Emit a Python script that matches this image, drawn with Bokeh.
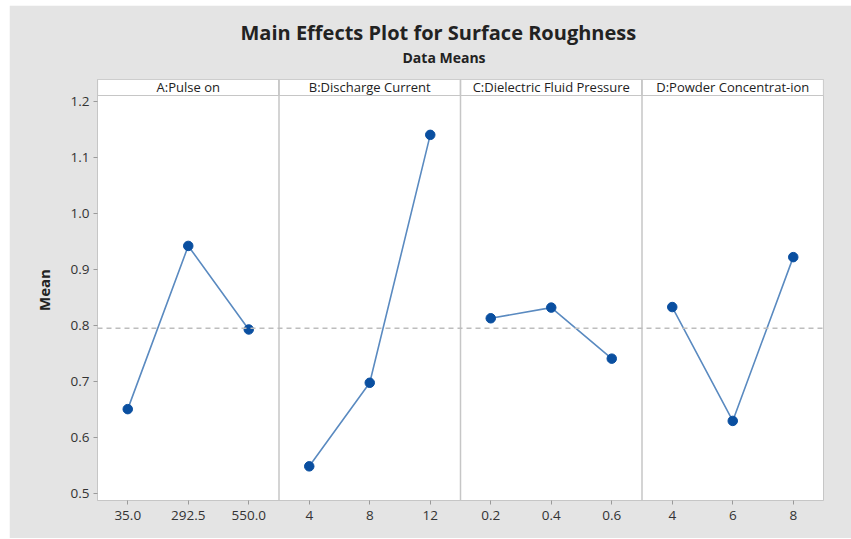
from bokeh.plotting import figure
from bokeh.models import Range1d, FixedTicker, Title, ColumnDataSource, Span
from bokeh.core.properties import value
from bokeh.embed import file_html
from bokeh.resources import INLINE

# ---- data ----
factors = ["A:Pulse on", "B:Discharge Current", "C:Dielectric Fluid Pressure", "D:Powder Concentrat-ion"]
levels_A = ["35.0", "292.5", "550.0"]
levels_B = ["4", "8", "12"]
levels_C = ["0.2", "0.4", "0.6"]
levels_D = ["4", "6", "8"]
means_A = [0.651, 0.942, 0.793]
means_B = [0.549, 0.698, 1.140]
means_C = [0.813, 0.832, 0.741]
means_D = [0.833, 0.630, 0.922]
grand_mean = 0.795
y_ticks = [0.5, 0.6, 0.7, 0.8, 0.9, 1.0, 1.1, 1.2]

all_levels = [levels_A, levels_B, levels_C, levels_D]
all_means = [means_A, means_B, means_C, means_D]

BG = "#e4e4e4"
FONT = "Open Sans"
LINE_C = "#5a8ac0"
MARK_C = "#0a4fa0"
FRAME_C = "#c6c6c6"

n_per = 3
y_top = 1.2387      # top of facet strip
strip_bottom = 1.2102

p = figure(frame_width=726, frame_height=421,
           x_range=Range1d(-0.5, len(factors) * n_per - 0.5),
           y_range=Range1d(0.4881, y_top),
           output_backend="svg", toolbar_location=None,
           min_border_left=88, min_border_right=28, min_border_top=74, min_border_bottom=38)
p.styles = {"margin-left": "9px", "margin-top": "5px"}
p.border_fill_color = BG
p.background_fill_color = "white"
p.outline_line_color = FRAME_C
p.grid.visible = False

# invisible spacer between frame and subtitle
p.add_layout(Title(text=".", text_font=FONT, text_font_size="4px", text_color=BG,
                   standoff=8), "above")
p.add_layout(Title(text="Data Means", text_font=FONT, text_font_size="14px",
                   text_font_style="bold", align="left", offset=305,
                   text_color="#222222", standoff=0), "above")
p.add_layout(Title(text="Main Effects Plot for Surface Roughness", text_font=FONT,
                   text_font_size="20px", text_font_style="bold", align="left",
                   offset=143, text_color="#222222", standoff=0), "above")

# facet strips
sx = [i * n_per + 1 for i in range(len(factors))]
strip = ColumnDataSource(dict(left=[x - 1.5 for x in sx], right=[x + 1.5 for x in sx],
                              x=sx, lab=factors))
p.quad(left="left", right="right", bottom=strip_bottom, top=y_top, source=strip,
       fill_color="white", line_color=FRAME_C, line_width=1.2)
p.text(x="x", y=(strip_bottom + y_top) / 2, text="lab", source=strip,
       text_align="center", text_baseline="middle", text_font_size="13px",
       text_color="#222222", text_font=value(FONT))

# data
for i, (lv, mv) in enumerate(zip(all_levels, all_means)):
    xs = [i * n_per + k for k in range(len(lv))]
    src = ColumnDataSource(dict(x=xs, y=mv))
    p.line("x", "y", source=src, line_color=LINE_C, line_width=1.6)
    p.scatter("x", "y", source=src, size=9.5, fill_color=MARK_C, line_color=MARK_C)

for i in range(1, len(factors)):
    p.add_layout(Span(location=i * n_per - 0.5, dimension="height",
                      line_color=FRAME_C, line_width=1.5))
p.add_layout(Span(location=grand_mean, dimension="width", line_color="#bdbdbd",
                  line_width=1.5, line_dash="5 4"))

# x axis
xt = []
xo = {}
for i, lv in enumerate(all_levels):
    for k, lab in enumerate(lv):
        t = i * n_per + k
        xt.append(t)
        xo[t] = lab
p.xaxis.ticker = FixedTicker(ticks=xt)
p.xaxis.major_label_overrides = xo
p.xaxis.minor_tick_line_color = None
p.xaxis.axis_line_color = FRAME_C
p.xaxis.major_tick_line_color = "#9a9a9a"
p.xaxis.major_tick_out = 4
p.xaxis.major_tick_in = 0
p.xaxis.major_label_standoff = 6
p.xaxis.major_label_text_font = FONT
p.xaxis.major_label_text_font_size = "13.5px"
p.xaxis.major_label_text_color = "#333333"

# y axis
p.yaxis.ticker = FixedTicker(ticks=y_ticks)
p.yaxis.major_label_overrides = {t: f"{t:.1f}" for t in y_ticks}
p.yaxis.minor_tick_line_color = None
p.yaxis.axis_line_color = FRAME_C
p.yaxis.major_tick_line_color = "#9a9a9a"
p.yaxis.major_tick_out = 4
p.yaxis.major_tick_in = 0
p.yaxis.major_label_standoff = 4
p.yaxis.major_label_text_font = FONT
p.yaxis.major_label_text_font_size = "13.5px"
p.yaxis.major_label_text_color = "#333333"
p.yaxis.axis_label = "Mean"
p.yaxis.axis_label_text_font = FONT
p.yaxis.axis_label_text_font_size = "15px"
p.yaxis.axis_label_text_font_style = "bold"
p.yaxis.axis_label_text_color = "#222222"
p.yaxis.axis_label_standoff = 14

open("out.html", "w").write(file_html(p, INLINE))
